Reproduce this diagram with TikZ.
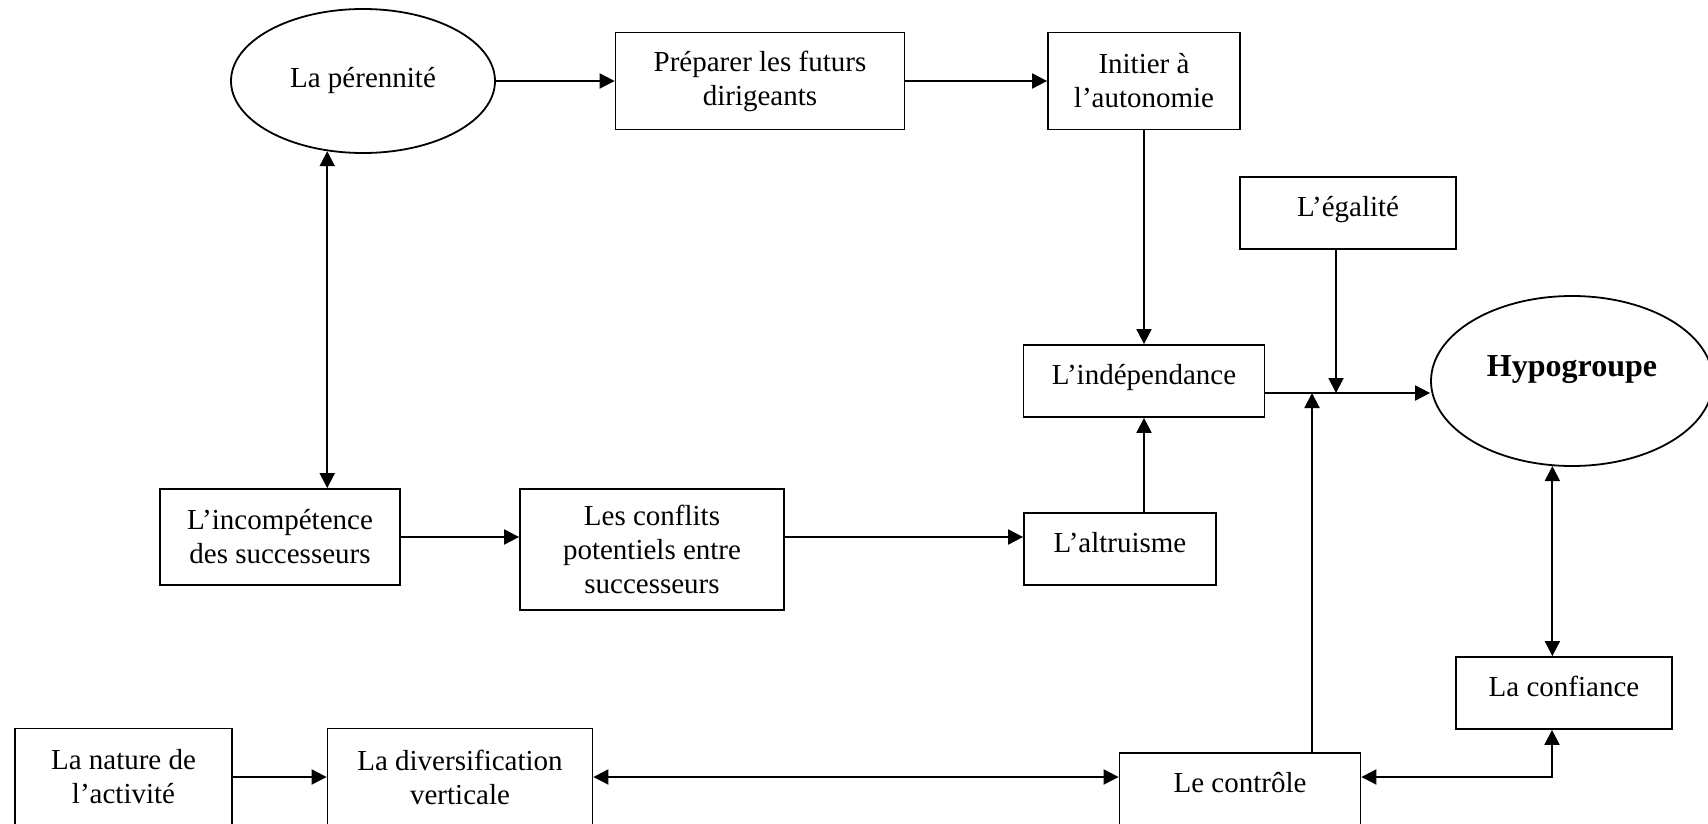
\documentclass[tikz,border=0pt]{standalone}
\usepackage{fontspec}
\setmainfont{Liberation Serif}
\usetikzlibrary{shapes.geometric,arrows.meta}
\tikzset{
  boite/.style={draw,line width=0.9pt,align=center,inner sep=2pt,
    font=\fontsize{14.5}{17}\selectfont},
  seul/.style={text height=10pt,text depth=6.5pt},
  bulle/.style={boite,ellipse},
  fleche/.style={line width=1pt,-{Triangle[length=7.5pt,width=7.5pt]}},
  double/.style={line width=1pt,{Triangle[length=7.5pt,width=7.5pt]}-{Triangle[length=7.5pt,width=7.5pt]}}
}
\begin{document}
\begin{tikzpicture}[x=0.5pt,y=-0.5pt]
\useasboundingbox (0,0) rectangle (1708,824);
\clip (0,0) rectangle (1708,824);
% ligne du haut
\node[bulle,minimum width=132pt,minimum height=72pt] (perennite) at (363,81) {La pérennité};
\node[boite,minimum width=144.5pt,minimum height=48.5pt] (preparer) at (760,81) {Préparer les futurs\\dirigeants};
\node[boite,minimum width=96pt,minimum height=48.5pt] (initier) at (1144,81) {Initier à\\l’autonomie};
\node[boite,seul,minimum width=108pt,minimum height=36pt] (egalite) at (1348,213) {L’égalité};
\node[boite,seul,minimum width=120.5pt,minimum height=36pt] (independance) at (1144,381) {L’indépendance};
\node[bulle,minimum width=141pt,minimum height=85pt,text height=10pt,text depth=15pt,
  font=\fontsize{16}{19}\selectfont\bfseries] (hypo) at (1572,381) {Hypogroupe};
% milieu
\node[boite,minimum width=120pt,minimum height=48pt] (incompetence) at (280,537) {L’incompétence\\des successeurs};
\node[boite,minimum width=132pt,minimum height=60.5pt] (conflits) at (652,549.5) {Les conflits\\potentiels entre\\successeurs};
\node[boite,seul,minimum width=96pt,minimum height=36pt] (altruisme) at (1120,549) {L’altruisme};
\node[boite,seul,minimum width=108pt,minimum height=36pt] (confiance) at (1564,693) {La confiance};
% ligne du bas
\node[boite,minimum width=108.5pt,minimum height=48.5pt] (nature) at (123.5,777) {La nature de\\l’activité};
\node[boite,minimum width=132.5pt,minimum height=48.5pt] (diversification) at (460,777) {La diversification\\verticale};
\node[boite,seul,minimum width=120.5pt,minimum height=36pt] (controle) at (1240,789) {Le contrôle};
% fleches
\draw[fleche] (perennite.east) -- (preparer.west);
\draw[fleche] (preparer.east) -- (initier.west);
\draw[fleche] (initier.south) -- (independance.north);
\draw[double] (perennite.-117) -- (perennite.-117 |- incompetence.north);
\draw[fleche] (incompetence.east) -- (incompetence.east -| conflits.west);
\draw[fleche] (conflits.east |- incompetence.east) -- (altruisme.west |- incompetence.east);
\draw[fleche] (independance.south |- altruisme.north) -- (independance.south);
\coordinate (j) at ([yshift=-6pt]independance.east);%jonction
\draw[fleche] (j) -- (j -| hypo.west);
\draw[fleche] ([xshift=-6pt]egalite.south) -- ([xshift=-6pt]egalite.south |- j);
\draw[fleche] ([xshift=36pt]controle.north) -- ([xshift=36pt]controle.north |- j);
\draw[double] (hypo.-103) -- (hypo.-103 |- confiance.north);
\draw[fleche] (nature.east) -- (diversification.west);
\draw[double] (diversification.east) -- (diversification.east -| controle.west);
\draw[double] (controle.east |- diversification.east) -| ([xshift=-6pt]confiance.south);
\end{tikzpicture}
\end{document}
